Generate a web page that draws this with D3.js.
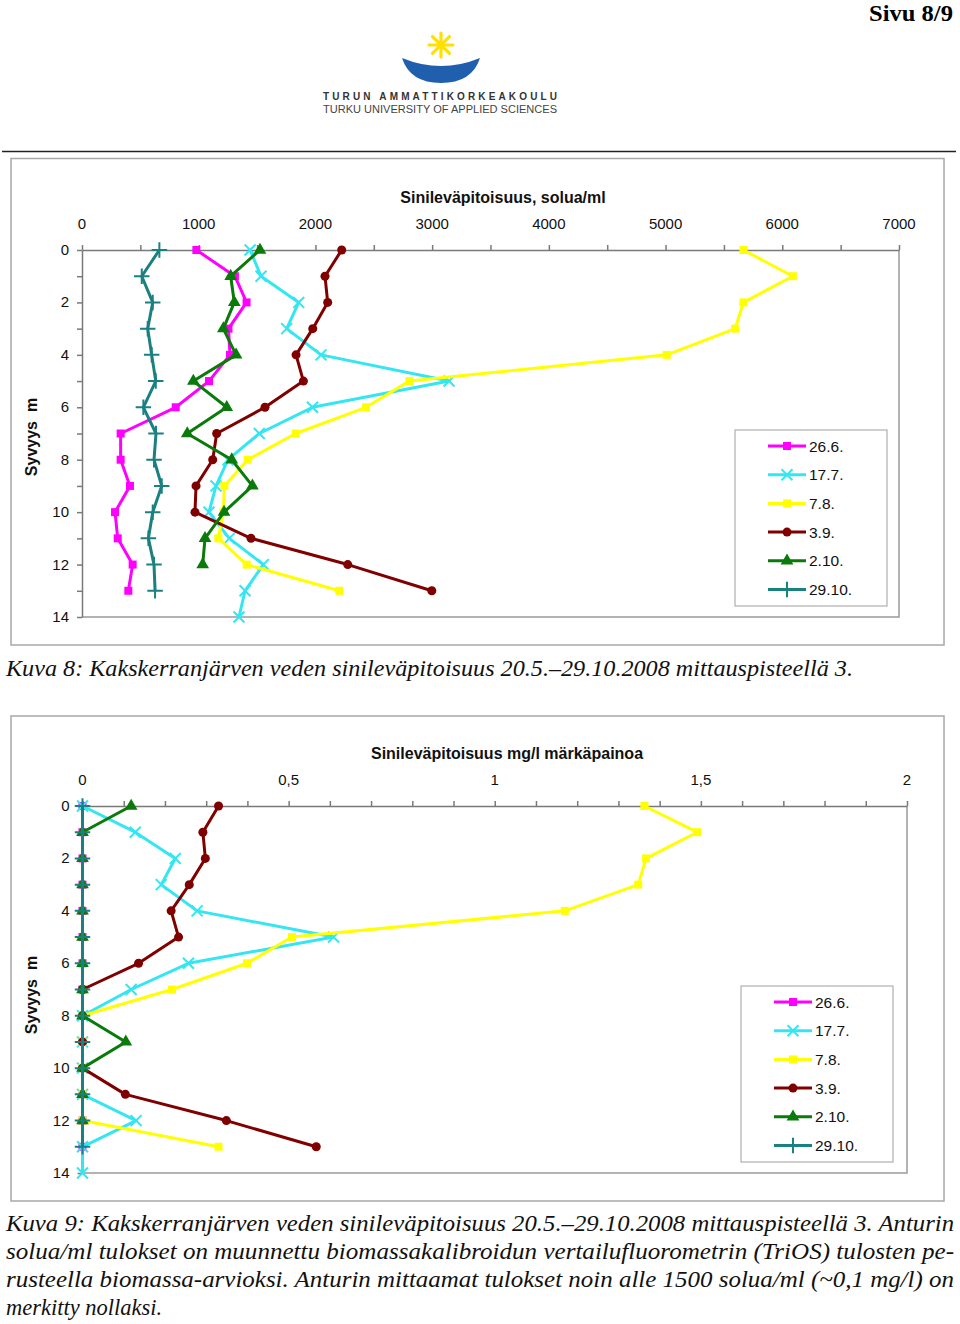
<!DOCTYPE html>
<html><head><meta charset="utf-8">
<script src="https://cdn.jsdelivr.net/npm/d3@7"></script>
<style>
body{margin:0;background:#fff;}
svg text{font-family:"Liberation Sans",Arial,sans-serif;}
</style></head>
<body>
<svg id="page" width="960" height="1324"></svg>
<script>
// ---------- DATA ----------
const seriesNames = ["26.6.", "17.7.", "7.8.", "3.9.", "2.10.", "29.10."];
const seriesColors = ["#ff00ff", "#33e6f2", "#ffff00", "#800000", "#0a7a0a", "#1a8080"];
const seriesMarkers = ["square", "times", "square", "circle", "triangle", "plus"];

// Chart 1: cells/ml by depth (depth index = metres from 0)
const c1_266 = [980, 1310, 1410, 1255, 1268, 1088, 803, 331, 331, 411, 283, 306, 434, 397];
const c1_177 = [1440, 1534, 1857, 1754, 2048, 3145, 1975, 1519, 1251, 1148, 1088, 1262, 1554, 1397, 1345];
const c1_78  = [5667, 6090, 5667, 5596, 5010, 2805, 2434, 1831, 1420, 1220, 1211, 1168, 1411, 2205];
const c1_39  = [2225, 2082, 2105, 1977, 1834, 1897, 1568, 1154, 1120, 977, 968, 1448, 2277, 2997];
const c1_210 = [1525, 1274, 1305, 1211, 1320, 954, 1240, 902, 1283, 1460, 1217, 1054, 1034];
const c1_2910= [663, 512, 606, 563, 597, 632, 526, 634, 617, 683, 606, 569, 617, 626];

// Chart 2: mg/l wet weight by depth
const c2_266 = [0, 0, 0, 0, 0, 0, 0, 0, 0, 0, 0, 0, 0, 0];
const c2_177 = [0, 0.128, 0.225, 0.191, 0.278, 0.609, 0.257, 0.118, 0, 0, 0, 0, 0.130, 0, 0];
const c2_78  = [1.363, 1.491, 1.367, 1.348, 1.170, 0.508, 0.399, 0.217, 0, 0, 0, 0, 0, 0.330];
const c2_39  = [0.330, 0.292, 0.298, 0.259, 0.215, 0.233, 0.136, 0, 0, 0, 0, 0.104, 0.349, 0.567];
const c2_210 = [0.118, 0, 0, 0, 0, 0, 0, 0, 0, 0.105, 0, 0, 0];
const c2_2910= [0, 0, 0, 0, 0, 0, 0, 0, 0, 0, 0, 0, 0, 0];

const c1TickValues = [0, 1000, 2000, 3000, 4000, 5000, 6000, 7000];
const c1TickLabels = ["0", "1000", "2000", "3000", "4000", "5000", "6000", "7000"];
const c2TickValues = [0, 0.5, 1, 1.5, 2];
const c2TickLabels = ["0", "0,5", "1", "1,5", "2"];
const depthTicks = [0, 2, 4, 6, 8, 10, 12, 14];

const c1Title = "Sinileväpitoisuus, solua/ml";
const c2Title = "Sinileväpitoisuus mg/l märkäpainoa";
const yTitle = "Syvyys  m";
const caption1 = "Kuva 8: Kakskerranjärven veden sinileväpitoisuus 20.5.–29.10.2008 mittauspisteellä 3.";
const caption2 = [
 "Kuva 9: Kakskerranjärven veden sinileväpitoisuus 20.5.–29.10.2008 mittauspisteellä 3. Anturin",
 "solua/ml tulokset on muunnettu biomassakalibroidun vertailufluorometrin (TriOS) tulosten pe-",
 "rusteella biomassa-arvioksi. Anturin mittaamat tulokset noin alle 1500 solua/ml (~0,1 mg/l) on",
 "merkitty nollaksi."
];

// ---------- PAGE ----------
const svg = d3.select("#page");

svg.append("text").attr("x", 953).attr("y", 21).attr("text-anchor", "end")
  .style("font-family", "'Liberation Serif','Times New Roman',serif").style("font-weight", "bold")
  .style("font-size", "23px").attr("textLength", 84).attr("lengthAdjust","spacingAndGlyphs").text("Sivu 8/9");

// Logo
const logo = svg.append("g");
const star = logo.append("g").attr("transform", "translate(441,45)");
d3.range(8).forEach(i => {
  const a = i * Math.PI / 4;
  star.append("line").attr("x1", 0).attr("y1", 0)
    .attr("x2", 12 * Math.cos(a)).attr("y2", 12 * Math.sin(a))
    .attr("stroke", "#ffe000").attr("stroke-width", 3.2).attr("stroke-linecap","round");
});
logo.append("path")
  .attr("d", "M402,58 Q441,74 480,58 Q472,83 441,83 Q410,83 402,58 Z")
  .attr("fill", "#1f5fae");
logo.append("text").attr("x", 323).attr("y", 100)
  .attr("textLength", 234).attr("lengthAdjust", "spacing")
  .style("font-size", "10px").style("font-weight", "bold")
  .attr("fill", "#333").text("TURUN AMMATTIKORKEAKOULU");
logo.append("text").attr("x", 323).attr("y", 113)
  .attr("textLength", 234).attr("lengthAdjust", "spacingAndGlyphs")
  .style("font-size", "10px")
  .attr("fill", "#444").text("TURKU UNIVERSITY OF APPLIED SCIENCES");

svg.append("line").attr("x1", 2).attr("x2", 956).attr("y1", 151.5).attr("y2", 151.5)
  .attr("stroke", "#222").attr("stroke-width", 1.5);

// ---------- CHART BUILDER ----------
function symbolFor(kind) {
  return {square: d3.symbolSquare, circle: d3.symbolCircle, triangle: d3.symbolTriangle,
          times: d3.symbolTimes, plus: d3.symbolPlus}[kind];
}
function drawMarker(g, kind, color, x, y) {
  const stroked = (kind === "times" || kind === "plus");
  const size = {square: 64, circle: 64, triangle: 70, times: 80, plus: 80}[kind];
  g.append("path").attr("transform", `translate(${x},${y})`)
    .attr("d", d3.symbol().type(symbolFor(kind)).size(size)())
    .attr("fill", stroked ? "none" : color)
    .attr("stroke", color).attr("stroke-width", stroked ? 2 : 0);
}

function drawChart(cfg) {
  const g = svg.append("g");
  g.append("rect").attr("x", cfg.box[0]).attr("y", cfg.box[1])
    .attr("width", cfg.box[2] - cfg.box[0]).attr("height", cfg.box[3] - cfg.box[1])
    .attr("fill", "#fff").attr("stroke", "#a8a8a8").attr("stroke-width", 1.5);

  const x = d3.scaleLinear().domain(cfg.xDomain).range([cfg.plot[0], cfg.plot[2]]);
  const y = d3.scaleLinear().domain([0, 14]).range([cfg.plot[1], cfg.plot[3]]);

  g.append("path").attr("d", `M${cfg.plot[2]},${cfg.plot[1]}V${cfg.plot[3]}H${cfg.plot[0]}`)
    .attr("fill", "none").attr("stroke", "#9a9a9a").attr("stroke-width", 1.5);

  const xa = g.append("g").attr("transform", `translate(0,${cfg.plot[1]})`)
    .call(d3.axisTop(x).tickValues(cfg.minorX).tickSize(5).tickSizeOuter(0).tickFormat(() => ""));
  xa.selectAll("path,line").attr("stroke", "#7a7a7a").attr("stroke-width", 1.5);
  g.selectAll(null).data(cfg.tickValues).enter().append("text")
    .attr("x", d => x(d)).attr("y", cfg.plot[1] - 21).attr("text-anchor", "middle")
    .style("font-size", "15px").attr("fill", "#111")
    .text((d, i) => cfg.tickLabels[i]);

  const ya = g.append("g").attr("transform", `translate(${cfg.plot[0]},0)`)
    .call(d3.axisLeft(y).tickValues(d3.range(0, 15)).tickSize(5).tickSizeOuter(0).tickFormat(() => ""));
  ya.selectAll("path,line").attr("stroke", "#7a7a7a").attr("stroke-width", 1.5);
  g.selectAll(null).data(depthTicks).enter().append("text")
    .attr("x", cfg.plot[0] - 13).attr("y", d => y(d) + 5).attr("text-anchor", "end")
    .style("font-size", "15px").attr("fill", "#111").text(d => d);

  g.append("text").attr("x", cfg.titleX).attr("y", cfg.plot[1] - 47).attr("text-anchor", "middle")
    .style("font-size", "16px").style("font-weight", "bold").attr("fill", "#111").text(cfg.title);
  g.append("text").attr("transform", `translate(37,${cfg.yTitleY}) rotate(-90)`)
    .attr("text-anchor", "middle").style("font-size", "16px").style("font-weight", "bold")
    .style("white-space", "pre").attr("fill", "#111").text(yTitle);

  const line = d3.line().x(d => x(d)).y((d, i) => y(i));
  cfg.data.forEach((vals, s) => {
    g.append("path").datum(vals).attr("d", line).attr("fill", "none")
      .attr("stroke", seriesColors[s]).attr("stroke-width", 3).attr("stroke-linejoin", "round");
    vals.forEach((v, i) => drawMarker(g, seriesMarkers[s], seriesColors[s], x(v), y(i)));
  });

  const L = cfg.legend;
  g.append("rect").attr("x", L[0]).attr("y", L[1]).attr("width", L[2] - L[0]).attr("height", L[3] - L[1])
    .attr("fill", "#fff").attr("stroke", "#b0b0b0").attr("stroke-width", 1.2);
  seriesNames.forEach((n, s) => {
    const ly = L[1] + 16 + s * 28.7;
    g.append("line").attr("x1", L[0] + 33).attr("x2", L[0] + 71).attr("y1", ly).attr("y2", ly)
      .attr("stroke", seriesColors[s]).attr("stroke-width", 3);
    drawMarker(g, seriesMarkers[s], seriesColors[s], L[0] + 52, ly);
    g.append("text").attr("x", L[0] + 74).attr("y", ly + 5.5).style("font-size", "15.5px")
      .attr("fill", "#111").text(n);
  });
}

drawChart({
  box: [11, 158.5, 944, 645], plot: [82, 250, 899, 617], xDomain: [0, 7000],
  minorX: d3.range(0, 7001, 500), tickValues: c1TickValues, tickLabels: c1TickLabels,
  title: c1Title, titleX: 503, yTitleY: 437,
  data: [c1_266, c1_177, c1_78, c1_39, c1_210, c1_2910],
  legend: [735, 430, 887, 606]
});
drawChart({
  box: [11, 716, 944, 1201], plot: [82.5, 806, 907, 1173], xDomain: [0, 2],
  minorX: d3.range(0, 21).map(d => d / 10), tickValues: c2TickValues, tickLabels: c2TickLabels,
  title: c2Title, titleX: 507, yTitleY: 995,
  data: [c2_266, c2_177, c2_78, c2_39, c2_210, c2_2910],
  legend: [741, 986, 893, 1162]
});

// captions
const capStyle = t => t.style("font-family", "'Liberation Serif','Times New Roman',serif")
  .style("font-style", "italic").style("font-size", "22.5px").attr("fill", "#111");
capStyle(svg.append("text").attr("x", 6).attr("y", 676).attr("textLength", 847)
  .attr("lengthAdjust", "spacingAndGlyphs").text(caption1));
caption2.forEach((t, i) => {
  const el = svg.append("text").attr("x", 6).attr("y", 1231 + i * 28).text(t);
  if (i < 3) el.attr("textLength", 948).attr("lengthAdjust", "spacingAndGlyphs");
  capStyle(el);
});
</script>
</body></html>
